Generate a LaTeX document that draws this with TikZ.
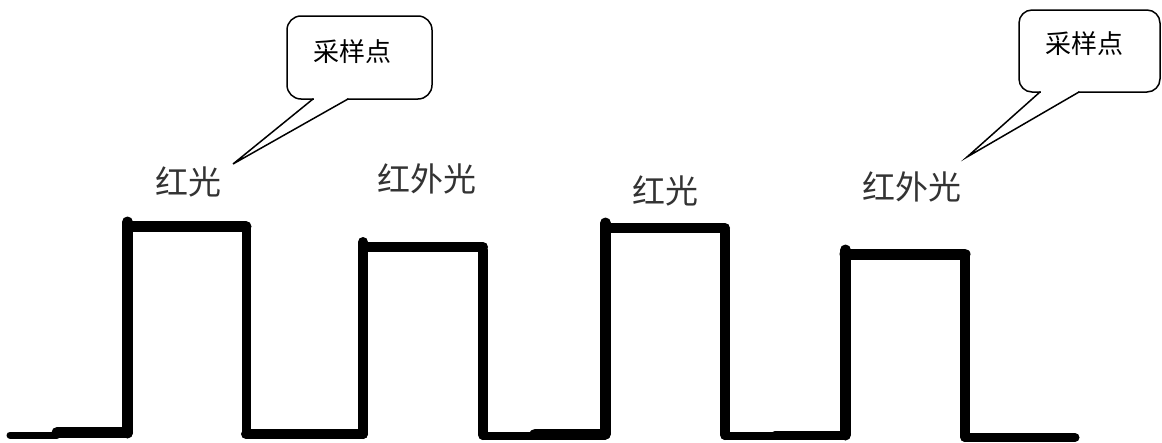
\documentclass[tikz,border=0pt]{standalone}
\usepackage{fontspec}
\newfontfamily\cjk{Noto Sans CJK SC}
\definecolor{lblgray}{HTML}{333333}
\begin{document}
\begin{tikzpicture}[x=1pt,y=-1pt,
  wave/.style={line width=#1, line cap=round, black},
  lbl/.style={font=\cjk\fontsize{33}{33}\selectfont, text=lblgray, inner sep=0pt},
  calltext/.style={font=\cjk\fontsize{26}{26}\selectfont, text=black, inner sep=0pt},
  callbox/.style={line width=1.5pt, rounded corners=#1, black, fill=white},
  callline/.style={line width=1.5pt, line join=miter, line cap=round, black}]

\useasboundingbox[fill=white] (0,0) rectangle (1162,442);

% ---- callout 1 ----
\coordinate (c1bl) at (313,99);
\coordinate (c1br) at (348,99);
\coordinate (c1tip) at (233,164);
\draw[callbox=14pt] (287,16) rectangle (432,99);
\fill[white] (314.2,97) rectangle (346.8,101);
\draw[callline] (c1bl) -- (c1tip) -- (c1br);
\node[calltext] (c1) at (352,52) {采样点};

% ---- callout 2 ----
\coordinate (c2bl) at (1040,92);
\coordinate (c2br) at (1079,92);
\coordinate (c2tip) at (967,157);
\draw[callbox=13pt] (1019,10) rectangle (1160,92);
\fill[white] (1041.2,90) rectangle (1077.8,94);
\draw[callline] (c2bl) -- (c2tip) -- (c2br);
\node[calltext] (c2) at (1084,44) {采样点};

% ---- labels ----
\node[lbl] (l1) at (188,182) {红光};
\node[lbl] (l2) at (427,179) {红外光};
\node[lbl] (l3) at (665,191) {红光};
\node[lbl] (l4) at (912,187) {红外光};

% ---- waveform ----
\draw[wave=7pt]  (10,435) -- (57,435);
\draw[wave=11pt] (57,432.5) -- (127.5,432.5);
\draw[wave=11pt] (127.5,433) -- (127.5,222);
\draw[wave=11pt] (127.5,226.5) -- (246,226.5);
\draw[wave=9pt]  (246.5,228) -- (246.5,434);
\draw[wave=10pt] (246,434) -- (363,434);
\draw[wave=10pt] (363,434) -- (363,242);
\draw[wave=10pt] (363,247) -- (483,247);
\draw[wave=10pt] (483,250) -- (483,435);
\draw[wave=8pt]  (483,436) -- (535,436);
\draw[wave=11pt] (535,434) -- (605,434);
\draw[wave=11pt] (605.5,434) -- (605.5,223);
\draw[wave=10pt] (605,228) -- (725,228);
\draw[wave=10pt] (725,230) -- (725,435);
\draw[wave=8pt]  (725,436) -- (775,436);
\draw[wave=9pt]  (775,435.5) -- (845,435.5);
\draw[wave=11pt] (845.5,435) -- (845.5,250);
\draw[wave=11pt] (845,254) -- (965,254);
\draw[wave=10pt] (965,256) -- (965,437);
\draw[wave=9pt]  (965,437.5) -- (1075,437.5);
\end{tikzpicture}
\end{document}
